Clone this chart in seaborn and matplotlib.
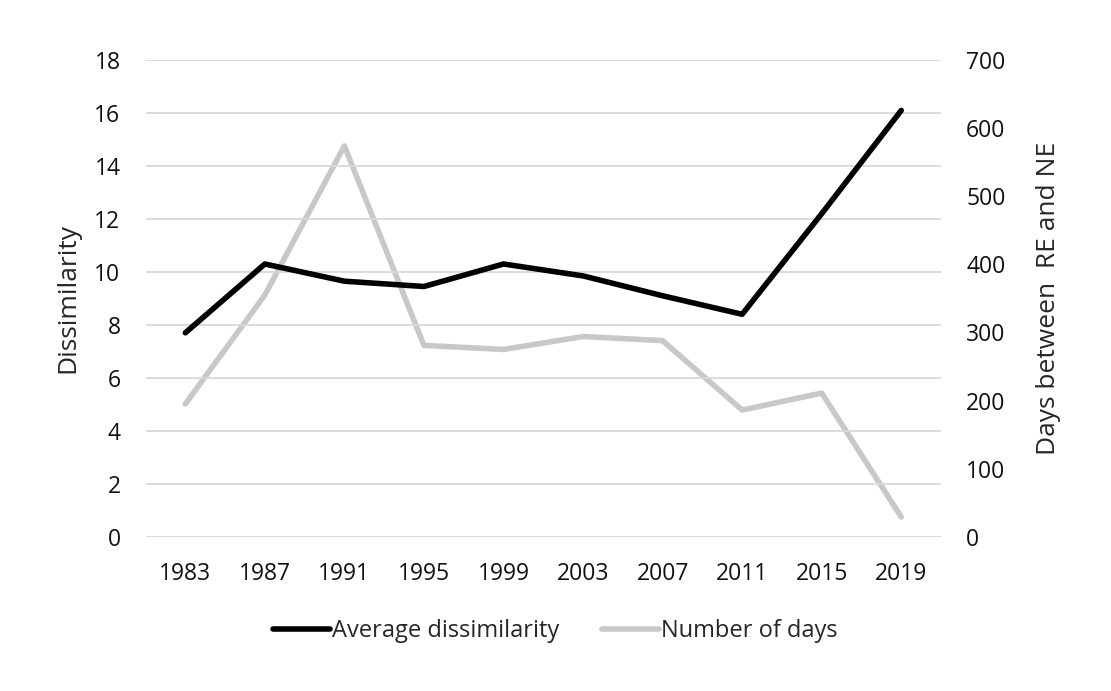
import matplotlib
matplotlib.use("Agg")
import matplotlib.pyplot as plt
import seaborn as sns
import pandas as pd

# Data
years = ["1983", "1987", "1991", "1995", "1999", "2003", "2007", "2011", "2015", "2019"]
avg_dissimilarity = [7.7, 10.3, 9.65, 9.45, 10.3, 9.85, 9.1, 8.4, 12.2, 16.1]
number_of_days = [195, 355, 574, 281, 275, 294, 288, 186, 211, 29]

df = pd.DataFrame({"year": years, "dissim": avg_dissimilarity, "days": number_of_days})

sns.set_style("white")
plt.rcParams['font.family'] = ['Open Sans', 'DejaVu Sans']
plt.rcParams['lines.solid_capstyle'] = 'round'
plt.rcParams['lines.solid_joinstyle'] = 'round'

fig = plt.figure(figsize=(11.11, 6.91), dpi=100)
ax = fig.add_axes([0.131, 0.2233, 0.716, 0.6897])
ax2 = ax.twinx()

black = "#000000"
grey = "#c8c8c8"

sns.lineplot(data=df, x="year", y="days", ax=ax2, color=grey, linewidth=4,
             label="Number of days", legend=False)
sns.lineplot(data=df, x="year", y="dissim", ax=ax, color=black, linewidth=4,
             label="Average dissimilarity", legend=False)

# left axis (black line) drawn above the grey one
ax.set_zorder(ax2.get_zorder() + 1)
ax.patch.set_visible(False)

ax.set_ylim(0, 18)
ax.set_yticks(range(0, 19, 2))
ax2.set_ylim(0, 700)
ax2.set_yticks(range(0, 701, 100))
ax.set_xlim(-0.5, 9.5)

ax.yaxis.grid(True, color="#d9d9d9", linewidth=1.3)
ax.set_axisbelow(True)
for a in (ax, ax2):
    for s in a.spines.values():
        s.set_visible(False)
    a.tick_params(length=0, labelsize=16.5, pad=18, colors="#111111")

ax.set_xlabel("")
ax.set_ylabel("Dissimilarity", fontsize=19, labelpad=10)
ax2.set_ylabel("Days between  RE and NE", fontsize=19, labelpad=22)

h1, l1 = ax.get_legend_handles_labels()
h2, l2 = ax2.get_legend_handles_labels()
fig.legend(h1 + h2, l1 + l2, loc="center", bbox_to_anchor=(0.5, 0.087), ncol=2,
           frameon=False, fontsize=17, handlelength=2.4, handletextpad=0.1,
           columnspacing=1.8)

plt.savefig("out.png", dpi=100)
